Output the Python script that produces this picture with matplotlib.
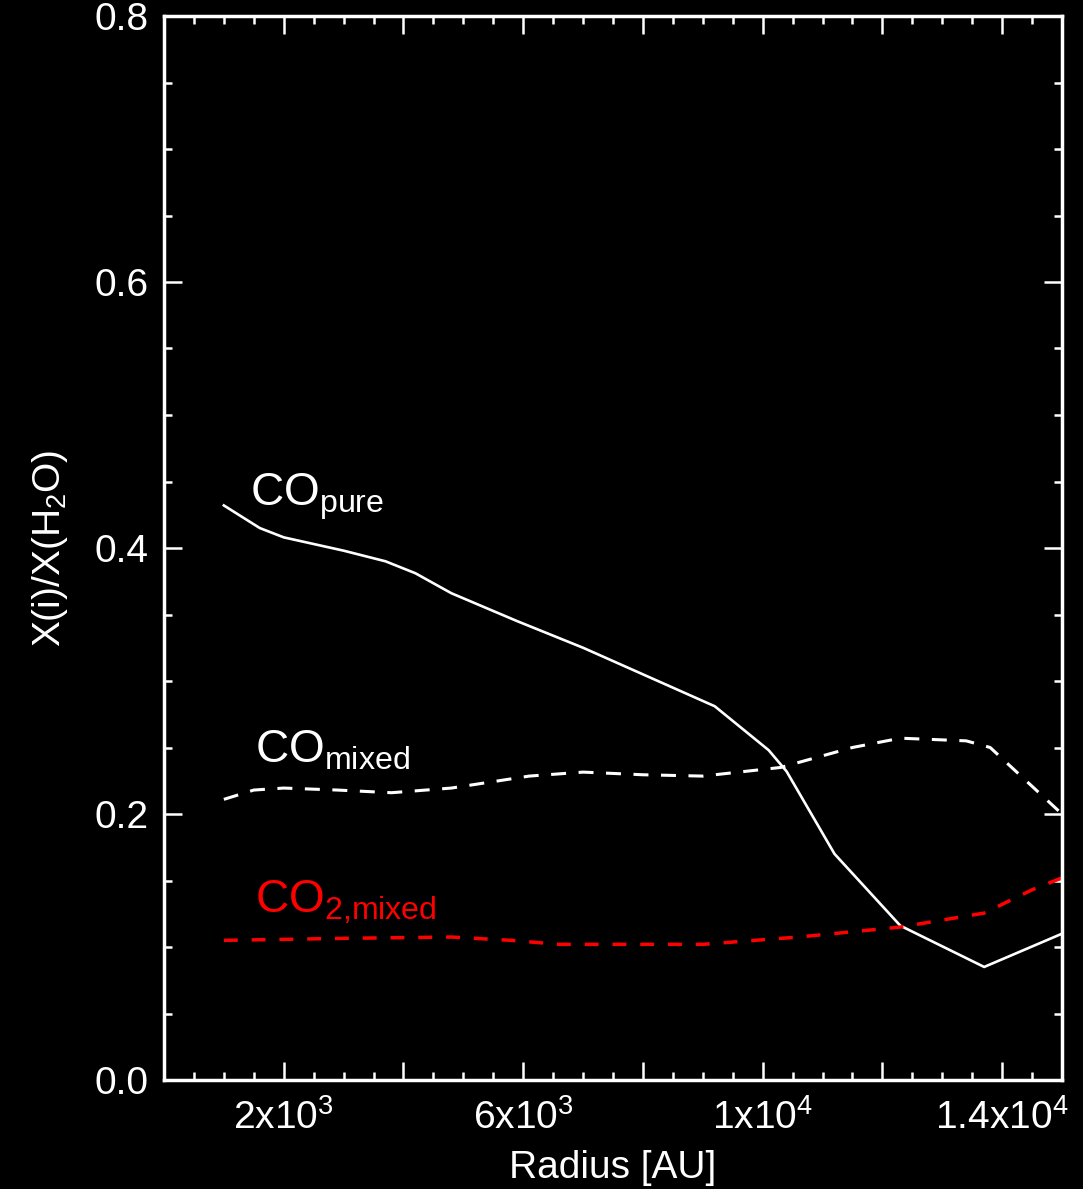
import matplotlib
matplotlib.use("Agg")
import matplotlib.pyplot as plt
from matplotlib.ticker import MultipleLocator, FixedLocator, FixedFormatter

plt.rcParams['font.family'] = ['Liberation Sans', 'DejaVu Sans']
plt.rcParams['mathtext.fontset'] = 'custom'
plt.rcParams['mathtext.rm'] = 'Liberation Sans'
plt.rcParams['mathtext.it'] = 'Liberation Sans:italic'
plt.rcParams['mathtext.bf'] = 'Liberation Sans:bold'
plt.rcParams['mathtext.default'] = 'regular'

# ---- data ----
co_pure_r = [1000, 1600, 2000, 3000, 3700, 4200, 4800, 5900, 7000, 8100, 9200, 10100, 10400, 11200, 12300, 13700, 15000]
co_pure_x = [0.432, 0.415, 0.408, 0.398, 0.390, 0.381, 0.366, 0.345, 0.325, 0.303, 0.281, 0.248, 0.232, 0.170, 0.116, 0.085, 0.110]

co_mixed_r = [1000, 1500, 2000, 2900, 3800, 4800, 6100, 7000, 8000, 9000, 10300, 11500, 12300, 13400, 13800, 15000]
co_mixed_x = [0.211, 0.218, 0.2195, 0.218, 0.216, 0.2195, 0.2285, 0.2315, 0.2295, 0.2285, 0.235, 0.250, 0.257, 0.255, 0.250, 0.200]

co2_mixed_r = [1000, 3000, 4800, 5800, 6600, 9000, 10600, 12300, 13700, 14500, 15000]
co2_mixed_x = [0.105, 0.1065, 0.1075, 0.105, 0.102, 0.102, 0.1075, 0.115, 0.1255, 0.143, 0.152]

xtick_pos = [2000, 6000, 10000, 14000]
xtick_labels = ['2x10$^3$', '6x10$^3$', '1x10$^4$', '1.4x10$^4$']
ytick_pos = [0.0, 0.2, 0.4, 0.6, 0.8]
ytick_labels = ['0.0', '0.2', '0.4', '0.6', '0.8']

fig = plt.figure(figsize=(10.83, 11.89), dpi=100, facecolor='black')
ax = fig.add_axes([164/1083, 1 - 1080/1189, (1062-164)/1083, (1080-16)/1189])
ax.set_facecolor('black')

ax.plot(co_pure_r, co_pure_x, color='white', lw=1.9, solid_joinstyle='round')
l2, = ax.plot(co_mixed_r, co_mixed_x, color='white', lw=2.2)
l2.set_dashes((4.9, 4.1))
l3, = ax.plot(co2_mixed_r, co2_mixed_x, color='#ff0000', lw=2.5)
l3.set_dashes((4.0, 4.0))

ax.set_xlim(0, 15000)
ax.set_ylim(0, 0.8)

# ticks
label_map = dict(zip(xtick_pos, xtick_labels))
ax.xaxis.set_major_locator(MultipleLocator(2000))
ax.xaxis.set_minor_locator(MultipleLocator(500))
ax.xaxis.set_major_formatter(plt.FuncFormatter(
    lambda v, p: label_map.get(int(round(v)), '')))
ax.yaxis.set_major_locator(FixedLocator(ytick_pos))
ax.yaxis.set_major_formatter(FixedFormatter(ytick_labels))
ax.yaxis.set_minor_locator(MultipleLocator(0.05))

for axis in ['x', 'y']:
    ax.tick_params(axis=axis, which='major', direction='in', length=13, width=1.8,
                   color='white', labelcolor='white', labelsize=28,
                   top=True, right=True)
    ax.tick_params(axis=axis, which='minor', direction='in', length=6, width=1.8,
                   color='white', top=True, right=True)
ax.tick_params(axis='x', which='major', pad=14)
ax.tick_params(axis='y', which='major', pad=11)

for s in ax.spines.values():
    s.set_color('white')
    s.set_linewidth(2.5)

ax.set_xlabel('Radius [AU]', color='white', fontsize=28, labelpad=9)
ax.set_ylabel('X(i)/X(H$_2$O)', color='white', fontsize=28, labelpad=18)

# annotations
ax.text(1433, 0.432, 'CO$_{pure}$', color='white', fontsize=33, va='baseline', ha='left')
ax.text(1517, 0.239, 'CO$_{mixed}$', color='white', fontsize=33, va='baseline', ha='left')
ax.text(1517, 0.1256, 'CO$_{2{,}mixed}$', color='#ff0000', fontsize=33, va='baseline', ha='left')

fig.savefig('out.png', dpi=100, facecolor='black')
